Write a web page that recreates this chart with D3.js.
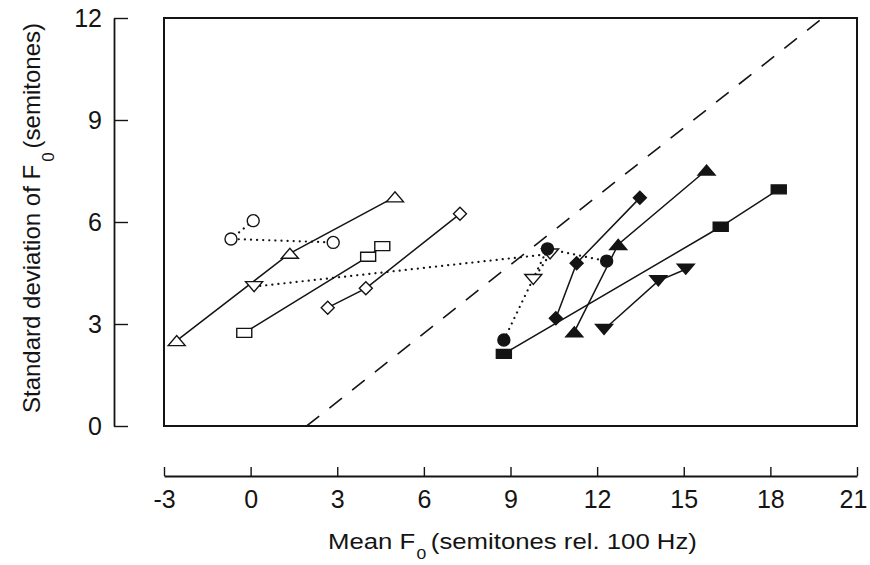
<!DOCTYPE html>
<html>
<head>
<meta charset="utf-8">
<script src="https://cdn.jsdelivr.net/npm/d3@7"></script>
<style>
  body { margin: 0; background: #fff; }
  svg { display: block; font-family: "Liberation Sans", Arial, Helvetica, sans-serif; }
</style>
</head>
<body>
<svg id="chart" width="870" height="565"></svg>
<script>
// values: [mean F0, sd F0] in semitones
const openTriUp = [[-2.56, 2.51], [1.36, 5.08], [5.0, 6.74]];
const openCircle = [[0.09, 6.04], [-0.68, 5.5], [2.86, 5.4]];
const openSquare = [[-0.22, 2.74], [4.07, 4.98], [4.56, 5.29]];
const openDiamond = [[2.67, 3.48], [3.99, 4.05], [7.25, 6.24]];
const openTriDown = [[0.12, 4.1], [10.37, 5.06], [9.79, 4.31]];
const filledCircle = [[8.77, 2.53], [10.28, 5.21], [12.33, 4.85]];
const filledDiamond = [[10.57, 3.17], [11.29, 4.79], [13.48, 6.71]];
const filledTriUp = [[11.21, 2.77], [12.73, 5.34], [15.79, 7.53]];
const filledSquare = [[8.77, 2.12], [16.28, 5.86], [18.29, 6.96]];
const filledTriDown = [[12.24, 2.84], [14.12, 4.27], [15.07, 4.61]];
const dashedRef = [[1.94, 0], [19.81, 12]];

const xMajor = [-3, 0, 3, 6, 9, 12, 15, 18, 21];
const yMajor = [0, 3, 6, 9, 12];

const series = [
    { data: openTriUp, shape: "triUp", filled: false, dotted: false },
    { data: openCircle, shape: "circle", filled: false, dotted: true },
    { data: openSquare, shape: "square", filled: false, dotted: false },
    { data: openDiamond, shape: "diamond", filled: false, dotted: false },
    { data: openTriDown, shape: "triDown", filled: false, dotted: true },
    { data: filledDiamond, shape: "diamond", filled: true, dotted: false },
    { data: filledTriUp, shape: "triUp", filled: true, dotted: false },
    { data: filledSquare, shape: "square", filled: true, dotted: false },
    { data: filledTriDown, shape: "triDown", filled: true, dotted: false },
    { data: filledCircle, shape: "circle", filled: true, dotted: true },
];

const ink = "#141414";
const svg = d3.select("#chart");
const x = d3.scaleLinear().domain([-3, 21]).range([164, 857]);
const y = d3.scaleLinear().domain([0, 12]).range([426, 18]);

// marker outline around a centre point
const markerPath = (shape, cx, cy) => {
    if (shape === "triUp") {
        return `M${cx - 8.5},${cy + 5}L${cx + 8.5},${cy + 5}L${cx},${cy - 5}Z`;
    }
    if (shape === "triDown") {
        return `M${cx - 8.5},${cy - 5}L${cx + 8.5},${cy - 5}L${cx},${cy + 5}Z`;
    }
    if (shape === "square") {
        return `M${cx - 7.5},${cy - 4.5}h15v9h-15Z`;
    }
    if (shape === "diamond") {
        return `M${cx},${cy - 6.5}L${cx + 6.5},${cy}L${cx},${cy + 6.5}L${cx - 6.5},${cy}Z`;
    }
    const r = 6;
    return `M${cx + r},${cy}A${r},${r} 0 1,1 ${cx - r},${cy}A${r},${r} 0 1,1 ${cx + r},${cy}Z`;
};

// frame of the data area
svg.append("rect")
    .attr("x", x(-3))
    .attr("y", y(12))
    .attr("width", x(21) - x(-3))
    .attr("height", y(0) - y(12))
    .attr("fill", "none")
    .attr("stroke", ink)
    .attr("stroke-width", 2);

svg.append("clipPath").attr("id", "plot-clip")
    .append("rect")
    .attr("x", x(-3))
    .attr("y", y(12))
    .attr("width", x(21) - x(-3))
    .attr("height", y(0) - y(12));

const line = d3.line().x(d => x(d[0])).y(d => y(d[1]));

svg.append("path")
    .datum(dashedRef)
    .attr("d", line)
    .attr("clip-path", "url(#plot-clip)")
    .attr("fill", "none")
    .attr("stroke", ink)
    .attr("stroke-width", 1.6)
    .attr("stroke-dasharray", "16,13");

svg.selectAll(".series-line")
    .data(series)
    .join("path")
    .attr("class", "series-line")
    .attr("d", d => line(d.data))
    .attr("fill", "none")
    .attr("stroke", ink)
    .attr("stroke-width", d => d.dotted ? 2.2 : 1.5)
    .attr("stroke-linecap", d => d.dotted ? "round" : "butt")
    .attr("stroke-dasharray", d => d.dotted ? "0.1,6" : null);

series.forEach(s => {
    svg.selectAll(null)
        .data(s.data)
        .join("path")
        .attr("d", d => markerPath(s.shape, x(d[0]), y(d[1])))
        .attr("fill", s.filled ? ink : "#fff")
        .attr("stroke", ink)
        .attr("stroke-width", 1.4);
});

// detached y axis, ticks pointing right
const yAxisG = svg.append("g").attr("transform", "translate(114,0)");
yAxisG.call(d3.axisLeft(y).tickValues(d3.range(0, 13)).tickSize(-6).tickFormat(""));
yAxisG.call(d3.axisLeft(y).tickValues(yMajor).tickSizeInner(-14).tickSizeOuter(0)
    .tickPadding(12).tickFormat(d => String(d)));

// detached x axis, ticks pointing up
const xAxisG = svg.append("g").attr("transform", "translate(0,476)");
xAxisG.call(d3.axisBottom(x).tickValues(d3.range(-3, 22)).tickSize(-5).tickFormat(""));
xAxisG.call(d3.axisBottom(x).tickValues(xMajor).tickSizeInner(-9).tickSizeOuter(0)
    .tickPadding(14).tickFormat(d => String(d)));

svg.selectAll(".domain").attr("stroke", ink).attr("stroke-width", 1.8);
svg.selectAll(".tick line").attr("stroke", ink).attr("stroke-width", 1.4);
svg.selectAll(".tick text").attr("fill", ink).style("font-size", "25px").style("font-family", null);
// last label sits against the right edge
xAxisG.selectAll(".tick text").filter(d => d === 21).attr("dx", -4);

// axis titles with subscript 0
const xTitle = svg.append("text")
    .attr("transform", "translate(328,549) scale(1.17,1)")
    .attr("fill", ink)
    .style("font-size", "22px");
xTitle.append("tspan").text("Mean F");
xTitle.append("tspan").attr("dx", 1).attr("dy", 10).style("font-size", "15px").text("0");
xTitle.append("tspan").attr("dx", 4).attr("dy", -10).text("(semitones rel. 100 Hz)");

const yTitle = svg.append("text")
    .attr("transform", "translate(40,413) rotate(-90)")
    .attr("fill", ink)
    .style("font-size", "24px");
yTitle.append("tspan").text("Standard deviation of F");
yTitle.append("tspan").attr("dx", 3).attr("dy", 14).style("font-size", "17px").text("0");
yTitle.append("tspan").attr("dx", 4).attr("dy", -14).text("(semitones)");
</script>
</body>
</html>
